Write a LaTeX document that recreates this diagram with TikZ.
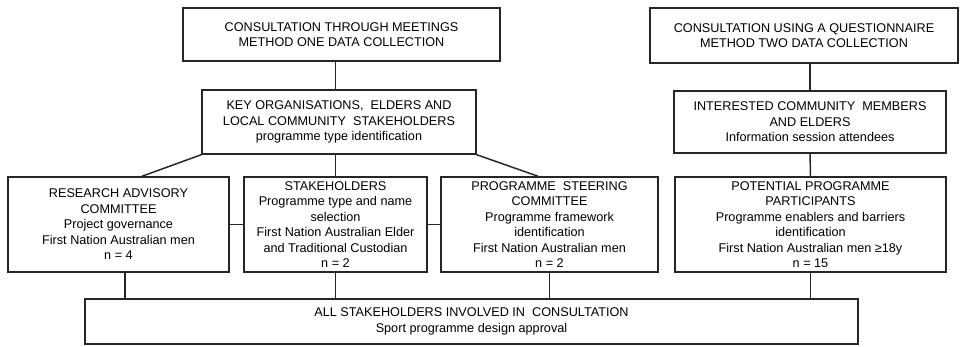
\documentclass[tikz,border=0pt]{standalone}
\usepackage{fontspec}
\setmainfont{Liberation Sans}
\usetikzlibrary{positioning}

\begin{document}
\begin{tikzpicture}[x=0.75pt, y=-0.75pt,
    box/.style={draw=black!85, line width=1.1pt, align=center, inner sep=0pt,
        font=\fontsize{9.5}{11.6}\selectfont},
    link/.style={draw=black!85, line width=1.1pt}]
    \useasboundingbox (0,0) rectangle (962,346);
    % method headers
    \node (meet) at (341.5,34.5) [box, minimum width=237.75pt, minimum height=39.75pt]
        {CONSULTATION THROUGH MEETINGS\\METHOD ONE DATA COLLECTION};
    \node (quest) at (804,35.5) [box, minimum width=231pt, minimum height=41.25pt]
        {CONSULTATION USING A QUESTIONNAIRE\\METHOD TWO DATA COLLECTION};
    % second row
    \node (key) at (339,122) [box, minimum width=205.5pt, minimum height=48pt]
        {KEY ORGANISATIONS, \ ELDERS AND\\LOCAL COMMUNITY \ STAKEHOLDERS\\programme type identification};
    \node (interest) at (810,122) [box, minimum width=204pt, minimum height=46.5pt]
        {INTERESTED COMMUNITY \ MEMBERS\\AND ELDERS\\Information session attendees};
    % groups
    \node (rac) at (118.5,224.5) [box, minimum width=165.75pt, minimum height=71.25pt]
        {RESEARCH ADVISORY\\COMMITTEE\\Project governance\\First Nation Australian men\\n = 4};
    \node (stk) at (335.5,224.5) [box, minimum width=137.25pt, minimum height=71.25pt]
        {STAKEHOLDERS\\Programme type and name\\selection\\First Nation Australian Elder\\and Traditional Custodian\\n = 2};
    \node (psc) at (549.5,224.5) [box, minimum width=162.75pt, minimum height=71.25pt]
        {PROGRAMME \ STEERING\\COMMITTEE\\Programme framework\\identification\\First Nation Australian men\\n = 2};
    \node (ppp) at (810.5,224.5) [box, minimum width=203.25pt, minimum height=71.25pt]
        {POTENTIAL PROGRAMME\\PARTICIPANTS\\Programme enablers and barriers\\identification\\First Nation Australian men ≥18y\\n = 15};
    % approval
    \node (all) at (471.5,321.5) [box, minimum width=579.75pt, minimum height=33.75pt]
        {ALL STAKEHOLDERS INVOLVED IN \ CONSULTATION\\Sport programme design approval};
    % connectors
    \draw [link] (meet.south -| stk.north) -- (key.north -| stk.north);
    \draw [link] (key.south -| stk.north) -- (stk.north);
    \draw [link] (key.south west) -- ([xshift=17.6pt]rac.north);
    \draw [link] (key.south east) -- ([xshift=-8.6pt]psc.north);
    \draw [link] (rac.east) -- (stk.west);
    \draw [link] (stk.east) -- (psc.west);
    \draw [link] (quest.south -| interest.north) -- (interest.north);
    \draw [link] (interest.south) -- (ppp.north);
    \draw [link] ([xshift=4.9pt]rac.south) -- ([xshift=4.9pt]rac.south |- all.north);
    \draw [link] (stk.south) -- (stk.south |- all.north);
    \draw [link] (psc.south) -- (psc.south |- all.north);
    \draw [link] (ppp.south) -- (ppp.south |- all.north);
\end{tikzpicture}
\end{document}
